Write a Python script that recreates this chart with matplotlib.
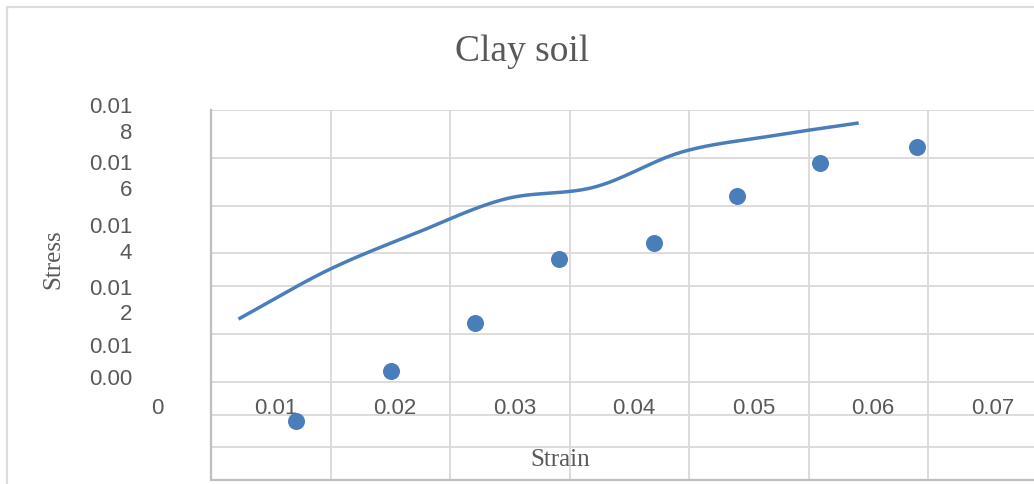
import matplotlib
matplotlib.use("Agg")
import matplotlib.pyplot as plt
from matplotlib.patches import Rectangle
import numpy as np

# measured points (scatter series)
strain = [0.0121, 0.0201, 0.0271, 0.0341, 0.0421, 0.0490, 0.0560, 0.0641]
stress = [0.00505, 0.00713, 0.00913, 0.01179, 0.01246, 0.01443, 0.01578, 0.01645]

# smoothed line series
line_strain = [0.0073, 0.0148, 0.0222, 0.0296, 0.0371, 0.0444, 0.0519, 0.0592]
line_stress = [0.00929, 0.01133, 0.01288, 0.01429, 0.01479, 0.01625, 0.01692, 0.01746]

# (broken) axis labels as they appear in the chart
xtick_labels = ["0.01", "0.02", "0.03", "0.04", "0.05", "0.06", "0.07"]
xtick_vals = [0.01, 0.02, 0.03, 0.04, 0.05, 0.06, 0.07]
ytick_labels = ["0.01\n8", "0.01\n6", "0.01\n4", "0.01\n2", "0.01", "0.00"]
ytick_pos = [0.01762, 0.01524, 0.01262, 0.01004, 0.00816, 0.00683]

xgrid = [0.015, 0.025, 0.035, 0.045, 0.055, 0.065]
ygrid = [0.018, 0.016, 0.014, 0.01204, 0.01067, 0.00867, 0.00667, 0.00529, 0.00396]

BLUE = "#4A7EBB"
TXT = "#595959"
GRID = "#D9D9D9"


def catmull_rom(xs, ys, n=30):
    # simple smoothing similar to Excel's smoothed line
    xs = np.asarray(xs); ys = np.asarray(ys)
    px = np.concatenate([[2 * xs[0] - xs[1]], xs, [2 * xs[-1] - xs[-2]]])
    py = np.concatenate([[2 * ys[0] - ys[1]], ys, [2 * ys[-1] - ys[-2]]])
    out_x, out_y = [], []
    t = np.linspace(0, 1, n)
    for i in range(1, len(px) - 2):
        for p, out in ((px, out_x), (py, out_y)):
            p0, p1, p2, p3 = p[i - 1], p[i], p[i + 1], p[i + 2]
            out.extend(0.5 * ((2 * p1) + (-p0 + p2) * t
                              + (2 * p0 - 5 * p1 + 4 * p2 - p3) * t ** 2
                              + (-p0 + 3 * p1 - 3 * p2 + p3) * t ** 3))
    return out_x, out_y


fig = plt.figure(figsize=(10.34, 4.85), dpi=100)
ax = fig.add_axes([211 / 1034, 4 / 485, 1.0, 370 / 485])

# chart border
fig.add_artist(Rectangle((6.5 / 1034, -0.5), 2.0, 0.5 + 1 - 8 / 485,
                         transform=fig.transFigure, fill=False,
                         edgecolor="#DCDCDC", linewidth=1.6))

ax.set_xlim(0.005, 0.005 + 1034 / 11950)
ax.set_ylim(0.018 - 370 / 24000, 0.018)

ax.set_xticks(xgrid)
ax.set_yticks(ygrid)
ax.tick_params(length=0, labelbottom=False, labelleft=False)
ax.grid(True, color=GRID, linewidth=1.3)
for s in ["top", "right"]:
    ax.spines[s].set_visible(False)
for s in ["left", "bottom"]:
    ax.spines[s].set_color("#BFBFBF")
    ax.spines[s].set_linewidth(1.6)

lx, ly = catmull_rom(line_strain, line_stress)
ax.plot(lx, ly, color=BLUE, linewidth=2.5, solid_capstyle="butt", zorder=3)
ax.scatter(strain, stress, s=150, color=BLUE, zorder=4, linewidths=0)

for v, lab in zip(xtick_vals, xtick_labels):
    ax.text(v + 0.0004, 0.00562, lab, ha="center", va="center",
            fontsize=16, color=TXT, family="Liberation Sans")

ytr = ax.get_yaxis_transform()
for y, lab in zip(ytick_pos, ytick_labels):
    ax.text(-79 / 1034, y, lab, transform=ytr, ha="right", va="center",
            multialignment="right", linespacing=1.3,
            fontsize=16, color=TXT, family="Liberation Sans", clip_on=False)
ax.text(-54 / 1034, 0.00562, "0", transform=ytr, ha="center", va="center",
        fontsize=16, color=TXT, family="Liberation Sans", clip_on=False)

fig.text(522 / 1034, 1 - 52 / 485, "Clay soil", ha="center", va="center",
         fontsize=27, color=TXT, family="Liberation Serif")
fig.text(560 / 1034, 1 - 460 / 485, "Strain", ha="center", va="center",
         fontsize=18, color=TXT, family="Liberation Serif")
fig.text(53 / 1034, 1 - 259 / 485, "Stress", ha="center", va="center",
         rotation=90, fontsize=18, color=TXT, family="Liberation Serif")

fig.savefig("out.png", dpi=100)
